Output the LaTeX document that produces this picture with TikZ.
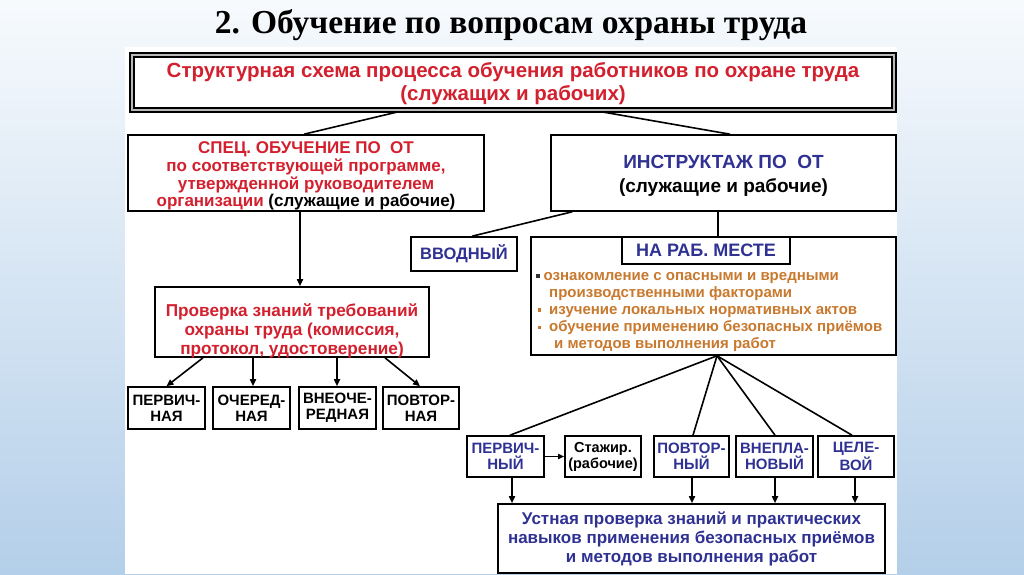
\documentclass[tikz,border=0pt]{standalone}
\usepackage{fontspec}
\setmainfont{Liberation Sans}
\newfontfamily\titleserif{Liberation Serif}
\usetikzlibrary{arrows.meta,calc}
\definecolor{rd}{HTML}{D3202E}
\definecolor{nv}{HTML}{2F3193}
\definecolor{org}{HTML}{C8792E}
\definecolor{bgtop}{HTML}{F7FAFD}
\definecolor{bgbot}{HTML}{B4CFE9}
\pgfdeclarelayer{back}
\pgfdeclarelayer{lines}
\pgfsetlayers{back,lines,main}
\newcommand\mybul[1]{\textcolor{#1}{\rule[2.5pt]{3.5pt}{3.5pt}}}
\begin{document}
\begin{tikzpicture}[x=1pt,y=-1pt,
  box/.style={draw=black,line width=1.6pt,fill=white,inner sep=0pt,align=center,font=\bfseries},
  txt/.style={align=center,inner sep=0pt},
  conn/.style={line width=1.6pt,draw=black},
  arr/.style={conn,-{Triangle[length=7pt,width=6pt]}},
  fA/.style={font=\bfseries\fontsize{15}{16}\selectfont},
]
\useasboundingbox (0,0) rectangle (1024,574);
\begin{pgfonlayer}{back}
\shade[top color=bgtop,bottom color=bgbot] (0,0) rectangle (1024,574);
\fill[white] (125,47) rectangle (897,574);
\end{pgfonlayer}

\node[font=\titleserif\bfseries\fontsize{33.5}{38}\selectfont] (maintitle) at (511,25) {2. Обучение по вопросам охраны труда};

\node[draw=black,double=gray!55,double distance=2.5pt,line width=1.3pt,fill=white,
  minimum width=762pt,minimum height=55pt,inner sep=0pt] (titlebox) at (513,82.5) {};
\node[txt,text=rd,font=\bfseries\fontsize{20.5}{23.5}\selectfont] (titletext) at (513,83.5)
  {Структурная схема процесса обучения работников по охране труда\\(служащих и рабочих)};

\node[box,minimum width=356pt,minimum height=76pt] (spec) at (306,173) {};
\node[txt,text=rd,font=\bfseries\fontsize{17}{17.7}\selectfont] (spectext) at (306,176)
  {СПЕЦ. ОБУЧЕНИЕ ПО\ \ ОТ\\по соответствующей программе,\\утвержденной руководителем\\организации \textcolor{black}{(служащие и рабочие)}};

\node[box,minimum width=345pt,minimum height=76pt] (instr) at (723.5,173) {};
\node[txt,font=\bfseries\fontsize{19}{24}\selectfont] (instrtext) at (723.5,175.5)
  {\textcolor{nv}{ИНСТРУКТАЖ ПО\ \ ОТ}\\(служащие и рабочие)};

\node[box,minimum width=106pt,minimum height=34pt,text=nv,font=\bfseries\fontsize{16.5}{20}\selectfont] (vvod) at (464,254) {ВВОДНЫЙ};

\node[box,minimum width=365pt,minimum height=118pt] (narab) at (713.5,296) {};
\node[box,minimum width=168pt,minimum height=27pt,text=nv,font=\bfseries\fontsize{18}{20}\selectfont] (tab) at (706,250.5) {НА РАБ. МЕСТЕ};
\node[anchor=west,align=left,text=org,inner sep=0pt,font=\bfseries\fontsize{15}{17}\selectfont] (narabtext) at (536,312)
  {\mybul{black!80}\hspace{4pt}ознакомление с опасными и вредными\\
   \hspace{13pt}производственными факторами\\
   \hspace{1.5pt}\mybul{org}\hspace{8pt}изучение локальных нормативных актов\\
   \hspace{1.5pt}\mybul{org}\hspace{8pt}обучение применению безопасных приёмов\\
   \hspace{18pt}и методов выполнения работ};

\node[box,minimum width=274pt,minimum height=70pt] (prov) at (292,322) {};
\node[txt,text=rd,font=\bfseries\fontsize{17.2}{19}\selectfont] (provtext) at (292,331)
  {Проверка знаний требований\\охраны труда (комиссия,\\протокол, удостоверение)};

\node[box,fA,minimum width=77pt,minimum height=42pt] (l1) at (166.5,408) {ПЕРВИЧ-\\НАЯ};
\node[box,fA,minimum width=77pt,minimum height=42pt] (l2) at (251.5,408) {ОЧЕРЕД-\\НАЯ};
\node[box,fA,minimum width=77pt,minimum height=42pt] (l3) at (337.5,408) {ВНЕОЧЕ-\\РЕДНАЯ};
\node[box,fA,minimum width=76pt,minimum height=42pt] (l4) at (421,408) {ПОВТОР-\\НАЯ};

\node[box,fA,text=nv,minimum width=77pt,minimum height=41pt] (r1) at (505.5,456.5) {ПЕРВИЧ-\\НЫЙ};
\node[box,minimum width=76pt,minimum height=41pt,font=\bfseries\fontsize{14.5}{16}\selectfont] (r1b) at (603,456.5) {Стажир.\\(рабочие)};
\node[box,fA,text=nv,minimum width=75pt,minimum height=41pt] (r2) at (691.5,456.5) {ПОВТОР-\\НЫЙ};
\node[box,fA,text=nv,minimum width=77pt,minimum height=41pt] (r3) at (774.5,456.5) {ВНЕПЛА-\\НОВЫЙ};
\node[box,fA,text=nv,minimum width=76pt,minimum height=41pt] (r4) at (856,456.5) {ЦЕЛЕ-\\ВОЙ};

\node[box,text=nv,minimum width=387pt,minimum height=69pt,font=\bfseries\fontsize{17}{19}\selectfont] (oral) at (691.5,538.5)
  {Устная проверка знаний и практических\\навыков применения безопасных приёмов\\и методов выполнения работ};

\begin{pgfonlayer}{lines}
\draw[conn] ([xshift=-110pt]titlebox.south) -- ([xshift=-2pt]spec.north);
\draw[conn] ([xshift=82pt]titlebox.south) -- ([xshift=6.5pt]instr.north);
\draw[arr] ([xshift=-6pt]spec.south) -- ([xshift=-6pt]spec.south |- prov.north);
\draw[conn] ([xshift=22pt]instr.south west) -- ([xshift=8pt]vvod.north);
\draw[conn] ([xshift=-5.5pt]instr.south) -- ([xshift=-5.5pt]instr.south |- tab.north);
\draw[arr] ([xshift=-89pt]prov.south) -- (l1.north);
\draw[arr] ([xshift=-39pt]prov.south) -- ([xshift=1.5pt]l2.north);
\draw[arr] ([xshift=45pt]prov.south) -- ([xshift=-0.5pt]l3.north);
\draw[arr] ([xshift=93pt]prov.south) -- ([xshift=-1pt]l4.north);
\coordinate (apex) at ([xshift=3.5pt]narab.south);
\draw[conn] (apex) -- ([xshift=4.5pt]r1.north);
\draw[conn] (apex) -- ([xshift=1.5pt]r2.north);
\draw[conn] (apex) -- ([xshift=0.5pt]r3.north);
\draw[conn] (apex) -- ([xshift=-4pt]r4.north);
\draw[conn,-{Triangle[length=6pt,width=5pt]}] (r1.east) -- (r1b.west);
\draw[arr] ([xshift=6.5pt]r1.south) -- ([xshift=6.5pt]r1.south |- oral.north);
\draw[arr] ([xshift=0.5pt]r2.south) -- ([xshift=0.5pt]r2.south |- oral.north);
\draw[arr] ([xshift=0.5pt]r3.south) -- ([xshift=0.5pt]r3.south |- oral.north);
\draw[arr] ([xshift=-1pt]r4.south) -- ([xshift=-1pt]r4.south |- oral.north);
\end{pgfonlayer}
\end{tikzpicture}
\end{document}
